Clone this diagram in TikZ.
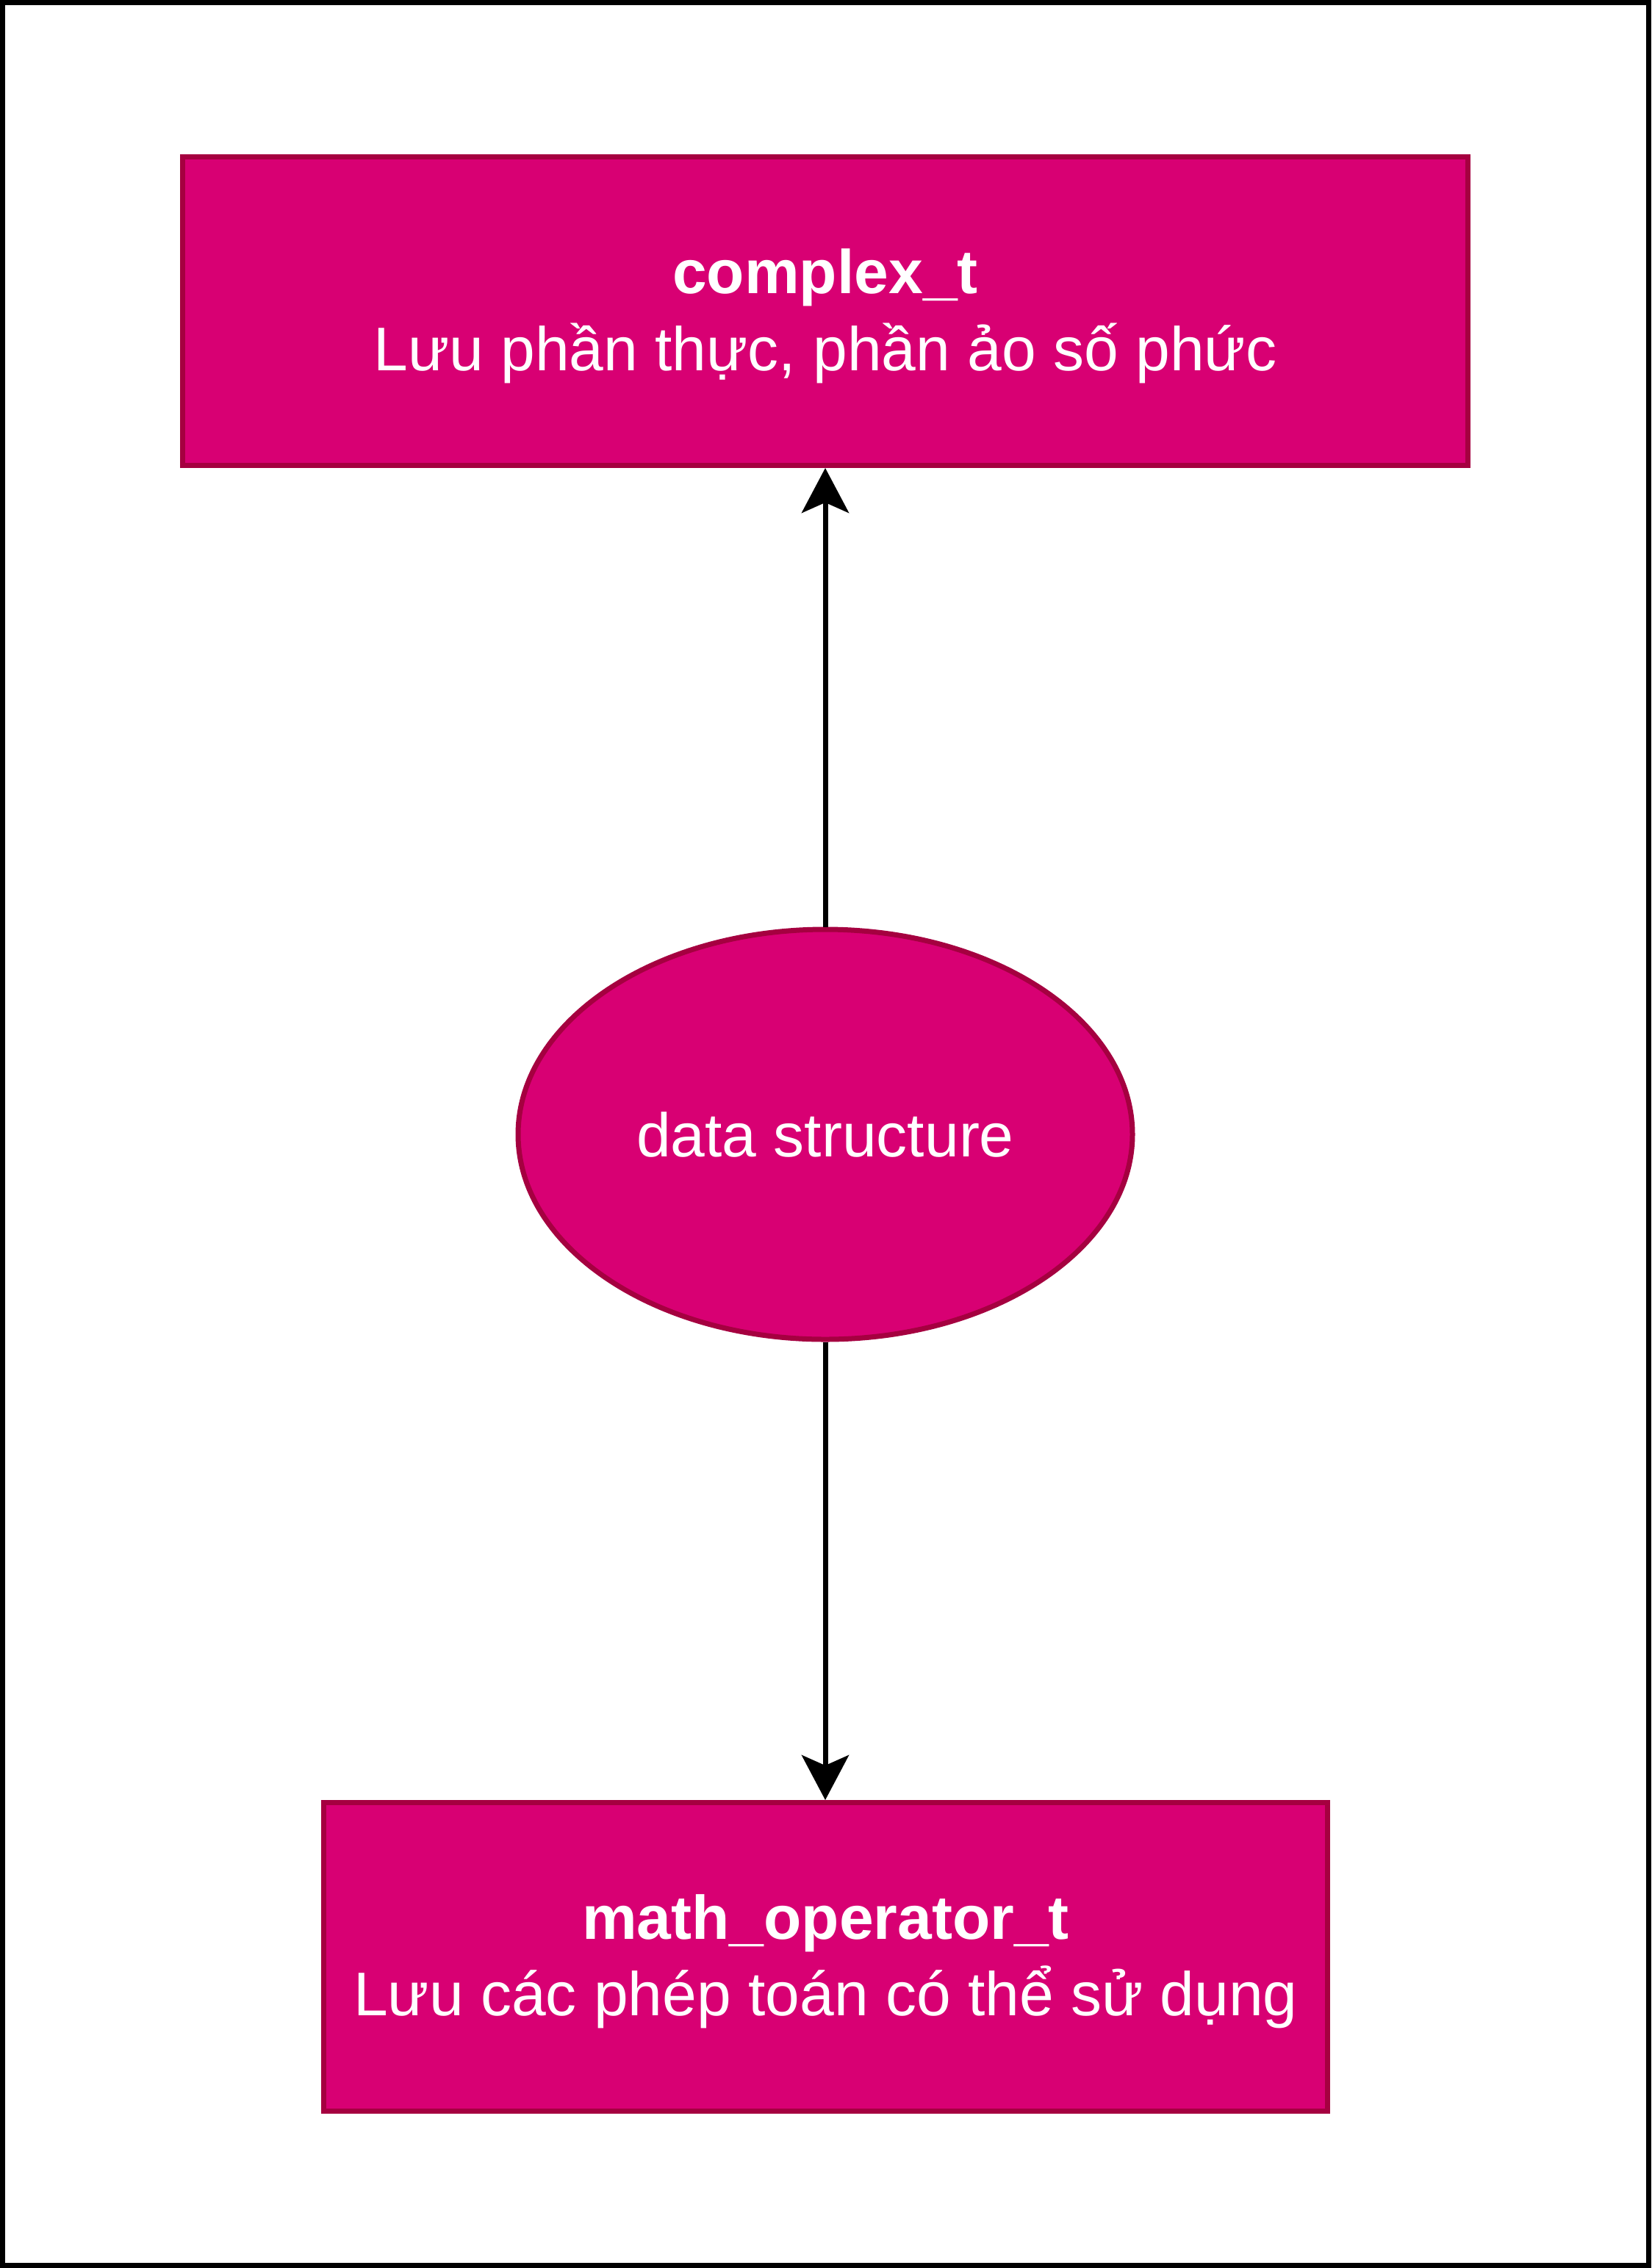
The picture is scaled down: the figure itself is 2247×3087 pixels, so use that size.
\documentclass[tikz,border=0pt]{standalone}
\usepackage{fontspec}
\setmainfont{Liberation Sans}
\usetikzlibrary{arrows.meta,shapes.geometric}
\definecolor{magfill}{HTML}{D80073}
\definecolor{magline}{HTML}{A50040}
\tikzset{
  boxshape/.style={draw=magline, fill=magfill, line width=7pt, rectangle, inner sep=0pt, minimum height=420pt},
  ellshape/.style={draw=magline, fill=magfill, line width=7pt, ellipse, inner sep=0pt, minimum width=836pt, minimum height=558pt, text=white, font=\fontsize{84}{104}\selectfont},
  titletext/.style={text=white, anchor=base, inner sep=0pt, font=\fontsize{84}{104}\selectfont\bfseries},
  subtext/.style={text=white, anchor=base, inner sep=0pt, font=\fontsize{84}{104}\selectfont},
  conn/.style={line width=7pt, -{Stealth[length=61pt, width=64pt, inset=14pt]}}
}
\begin{document}
\begin{tikzpicture}[x=1pt, y=-1pt]
\useasboundingbox (0,0) rectangle (2247,3087);
\draw[line width=7pt, black] (3.5,3.5) rectangle (2243.5,3083.5);
\node[boxshape, minimum width=1749pt] (topbox) at (1123,423.5) {};
\node[titletext] (toptitle) at (1123,399) {complex\_t};
\node[subtext] (topsub) at (1123,504) {Lưu phần thực, phần ảo số phức};
\node[ellshape] (ds) at (1123,1544) {data structure};
\node[boxshape, minimum width=1366pt] (botbox) at (1123.5,2663.5) {};
\node[titletext] (bottitle) at (1123.5,2639) {math\_operator\_t};
\node[subtext] (botsub) at (1123.5,2743) {Lưu các phép toán có thể sử dụng};
\draw[conn] (ds.north) -- (topbox.south);
\draw[conn] (ds.south) -- (ds.south |- botbox.north);
\end{tikzpicture}
\end{document}
